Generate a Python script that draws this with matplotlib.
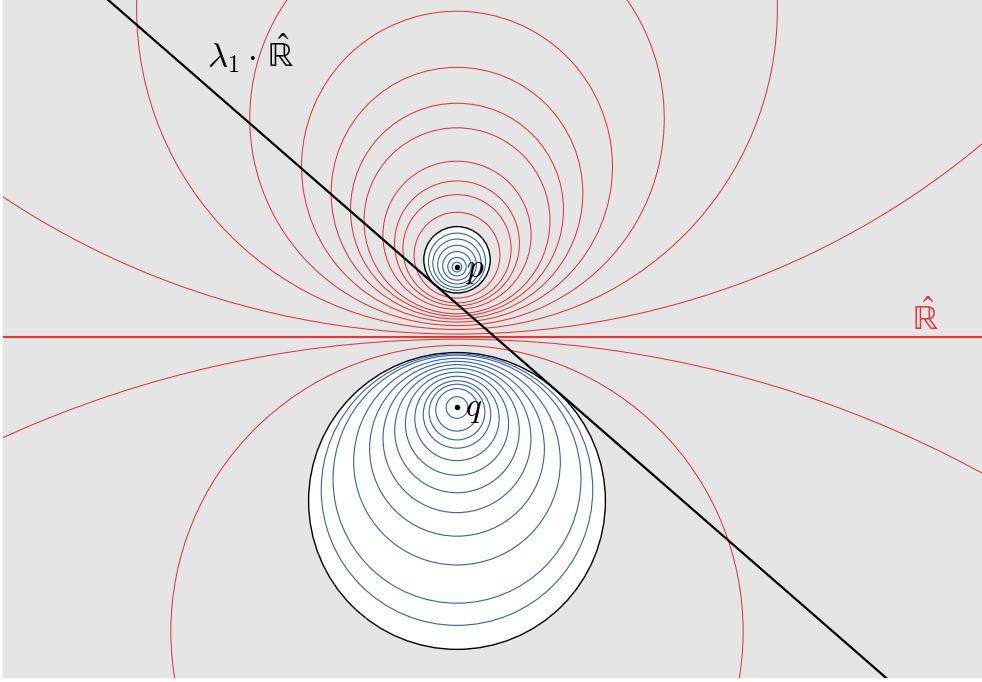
import numpy as np
import matplotlib
matplotlib.use("Agg")
import matplotlib.pyplot as plt
from matplotlib.patches import Circle

plt.rcParams['mathtext.fontset'] = 'cm'

# ---- data (hyperbolic radii; p = i, q = -i, unit = |Im p|) ----
p_point = (0.0, 1.0)
q_point = (0.0, -1.0)
disk_p_rho = 0.46
disk_q_rho = 1.50
blue_p_rho = [0.069, 0.132, 0.204, 0.274, 0.340, 0.399]
blue_q_rho = [0.155, 0.300, 0.390, 0.467, 0.573, 0.685, 0.804, 0.924, 1.050,
              1.185, 1.340, 1.420]
red_p_rho = [0.582, 0.714, 0.806, 0.925, 1.099, 1.210, 1.353, 1.542, 1.810,
             2.230, 3.160]
red_q_rho = [2.120, 3.450]
line_crossing = 0.544      # where lambda_1 * R-hat meets R-hat
line_angle_deg = -41.07
label_line_a = r'$\lambda_1 \cdot$'
label_line_b = r'$\hat{\mathrm{\mathbb{R}}}$'
label_axis = r'$\hat{\mathrm{\mathbb{R}}}$'
label_p = r'$p$'
label_q = r'$q$'

# ---- style ----
BG = '#e5e5e5'
RED = '#e2363a'
BLUE = '#3461ad'
U = 69.7  # pixels per unit

W, H = 982, 682
fig = plt.figure(figsize=(W / 100, H / 100), dpi=100, facecolor='white')
ax = fig.add_axes([3 / W, 4 / H, 979 / W, 678 / H])
ax.set_facecolor(BG)
ax.set_xlim((3 - 457) / U, (982 - 457) / U)
ax.set_ylim((337 - 678) / U, 337 / U)
ax.set_aspect('equal')
ax.axis('off')
ax.add_patch(plt.Rectangle((0, 0), 1, 1, transform=ax.transAxes,
                           facecolor=BG, edgecolor='none', zorder=0))


def hyp_circle(c, rho, **kw):
    a, b = c
    return Circle((a, b * np.cosh(rho)), abs(b) * np.sinh(rho), **kw)


# red hyperbolic circles around p and q
for r in red_p_rho:
    ax.add_patch(hyp_circle(p_point, r, fill=False, ec=RED, lw=0.75, zorder=2))
for r in red_q_rho:
    ax.add_patch(hyp_circle(q_point, r, fill=False, ec=RED, lw=0.75, zorder=2))

# the real line
ax.axhline(0, color=RED, lw=1.5, zorder=3)

# white disks with blue circles
for c, R, rings in [(p_point, disk_p_rho, blue_p_rho), (q_point, disk_q_rho, blue_q_rho)]:
    ax.add_patch(hyp_circle(c, R, fc='white', ec='black', lw=1.0, zorder=4))
    for r in rings:
        ax.add_patch(hyp_circle(c, r, fill=False, ec=BLUE, lw=0.8, zorder=5))

# lambda_1 * R-hat
ax.axline((line_crossing, 0), slope=np.tan(np.radians(line_angle_deg)),
          color='black', lw=1.6, zorder=6)

# points
ax.scatter([p_point[0], q_point[0]], [p_point[1], q_point[1]], s=9,
           color='black', zorder=7)

ax.text(p_point[0] + 0.12, p_point[1] - 0.03, label_p, fontsize=24,
        ha='left', va='center', zorder=8)
ax.text(q_point[0] + 0.12, q_point[1] - 0.03, label_q, fontsize=24,
        ha='left', va='center', zorder=8)
ax.text(-3.58, 3.87, label_line_a, fontsize=25, ha='left', va='baseline', zorder=8)
ax.text(-2.72, 3.87, label_line_b, fontsize=25, ha='left', va='baseline',
        math_fontfamily='stix', zorder=8)
ax.text(6.72, 0.10, label_axis, fontsize=25, color=RED, ha='center',
        va='baseline', math_fontfamily='stix', zorder=8)

fig.savefig('out.png', dpi=100, facecolor='white')
